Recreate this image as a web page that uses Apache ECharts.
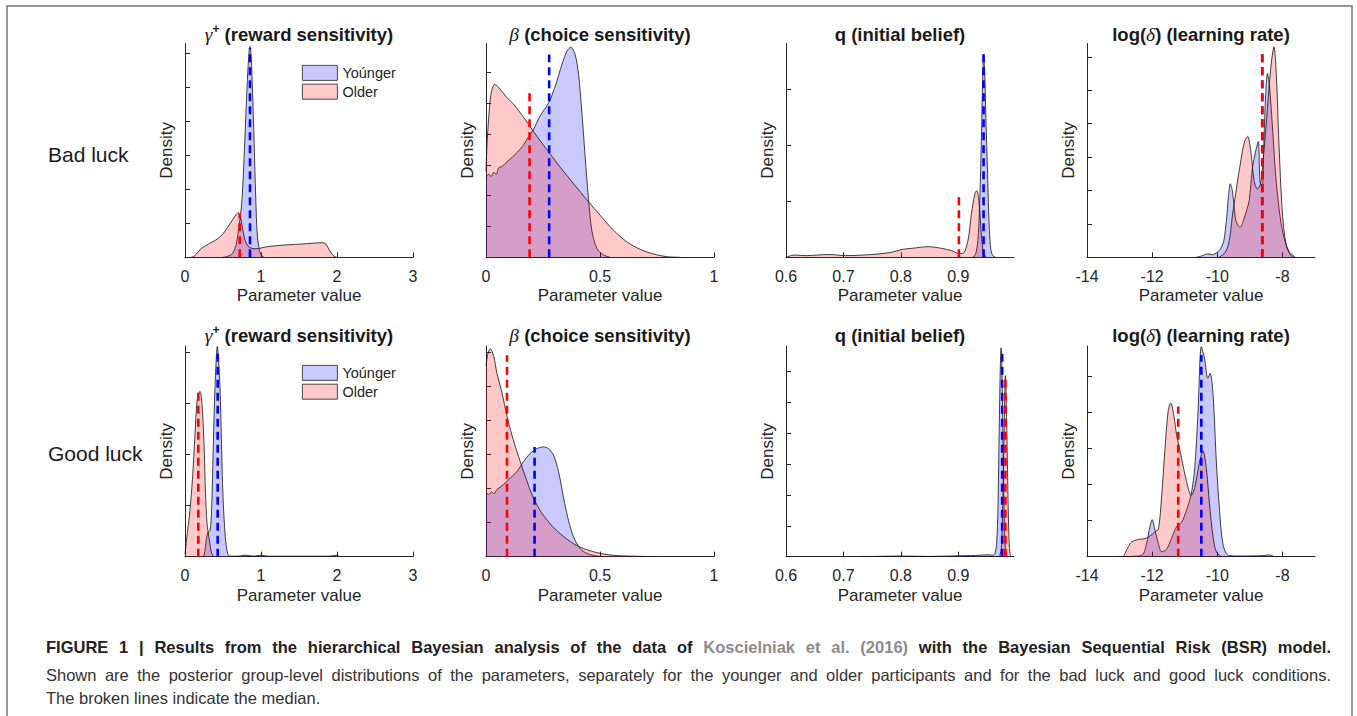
<!DOCTYPE html>
<html><head><meta charset="utf-8">
<script src="https://cdn.jsdelivr.net/npm/echarts@6/dist/echarts.min.js"></script>
<style>html,body{margin:0;padding:0;background:#fff}#c{width:1357px;height:716px}</style>
</head><body><div id="c"></div>
<script>
// ---------------- DATA ----------------
// Row 1: Bad luck
const gammaBadYoungX = [0.50,0.55,0.62,0.67,0.71,0.75,0.79,0.82,0.845,0.855,0.87,0.89,0.91,0.93,0.95,0.98,1.01,1.04];
const gammaBadYoungY = [0,0.02,0.1,0.35,0.9,1.7,3.6,5.2,6.1,6.2,5.9,4.8,3.35,1.8,0.7,0.2,0.05,0];
const gammaBadOldX = [0.08,0.12,0.17,0.22,0.28,0.33,0.40,0.47,0.53,0.58,0.63,0.67,0.70,0.73,0.76,0.79,0.83,0.87,0.92,0.98,1.05,1.15,1.3,1.45,1.6,1.72,1.80,1.85,1.89,1.93,1.97,2.0];
const gammaBadOldY = [0,0.03,0.15,0.27,0.35,0.42,0.5,0.62,0.78,0.95,1.12,1.25,1.31,1.18,0.82,0.5,0.33,0.27,0.25,0.26,0.3,0.33,0.36,0.38,0.4,0.42,0.43,0.4,0.25,0.1,0.02,0];

const betaBadYoungX = [0,0.012,0.022,0.034,0.045,0.055,0.07,0.092,0.115,0.136,0.16,0.18,0.209,0.238,0.274,0.304,0.333,0.355,0.372,0.391,0.406,0.42,0.435,0.45,0.464,0.486,0.515,0.545];
const betaBadYoungY = [2.6,2.7,2.62,2.76,2.7,2.9,2.95,3.1,3.25,3.4,3.6,3.84,4.16,4.6,5.0,5.56,6.26,6.69,6.82,6.58,5.94,4.75,3.25,1.85,0.88,0.29,0.08,0];
const betaBadOldX = [0,0.004,0.012,0.022,0.038,0.063,0.092,0.121,0.165,0.201,0.238,0.282,0.326,0.384,0.45,0.5,0.559,0.618,0.676,0.734,0.793,0.851];
const betaBadOldY = [2.8,3.6,4.54,5.3,5.61,5.45,5.18,4.97,4.54,4.16,3.78,3.35,2.92,2.39,1.8,1.37,0.88,0.5,0.26,0.11,0.02,0];

const qBadYoungX = [0.925,0.93,0.934,0.937,0.94,0.942,0.944,0.946,0.948,0.951,0.954,0.957,0.96,0.965];
const qBadYoungY = [0,0.05,0.3,0.9,2.0,3.0,3.62,3.3,2.5,1.5,0.5,0.12,0.03,0];
const qBadOldX = [0.6,0.614,0.635,0.675,0.704,0.75,0.784,0.802,0.819,0.848,0.871,0.888,0.9,0.908,0.917,0.923,0.929,0.932,0.936,0.94,0.944,0.949];
const qBadOldY = [0,0.04,0.03,0.05,0.03,0.05,0.09,0.14,0.16,0.19,0.16,0.12,0.07,0.07,0.31,0.79,1.14,1.19,1.0,0.43,0.07,0];

const deltaBadYoungX = [-10.65,-10.45,-10.3,-10.15,-10.0,-9.9,-9.8,-9.72,-9.66,-9.60,-9.54,-9.48,-9.43,-9.36,-9.30,-9.2,-9.1,-9.02,-8.92,-8.82,-8.74,-8.69,-8.62,-8.57,-8.51,-8.46,-8.40,-8.31,-8.21,-8.11,-8.02,-7.91,-7.78,-7.6];
const deltaBadYoungY = [0,0.05,0.1,0.08,0.15,0.25,0.5,1.1,1.8,2.2,2.0,1.5,1.1,0.95,0.9,1.1,1.4,1.7,2.68,3.18,3.47,2.28,2.09,3.47,4.96,5.5,5.16,3.96,2.48,1.5,0.9,0.45,0.15,0];
const deltaBadOldX = [-9.95,-9.8,-9.68,-9.60,-9.53,-9.45,-9.38,-9.30,-9.23,-9.15,-9.07,-8.97,-8.87,-8.77,-8.67,-8.57,-8.46,-8.36,-8.26,-8.18,-8.11,-8.0,-7.88,-7.74,-7.65];
const deltaBadOldY = [0,0.1,0.3,0.7,1.3,1.8,2.28,2.75,3.17,3.5,3.62,3.17,2.3,2.05,2.2,3.17,4.46,5.65,6.3,5.3,3.47,1.3,0.35,0.05,0];

// Row 2: Good luck
const gammaGoodYoungX = [0.22,0.25,0.28,0.30,0.33,0.35,0.373,0.395,0.425,0.46,0.48,0.50,0.53,0.56,0.59,0.7,0.8,0.9,1.0,1.1,1.5,1.9,2.0,2.03];
const gammaGoodYoungY = [0,0.03,0.33,0.47,0.52,0.92,2.22,3.33,4.12,3.33,2.22,1.18,0.39,0.07,0.01,0.01,0.03,0.01,0.03,0.01,0.01,0.01,0.03,0];
const gammaGoodOldX = [0,0.02,0.066,0.10,0.13,0.16,0.197,0.22,0.25,0.27,0.29,0.32,0.35,0.38];
const gammaGoodOldY = [0.05,0.33,0.92,1.57,2.35,3.07,3.24,3.07,2.22,1.24,0.65,0.33,0.07,0];

const betaGoodYoungX = [0,0.012,0.025,0.035,0.048,0.077,0.107,0.136,0.165,0.194,0.223,0.253,0.274,0.296,0.318,0.34,0.362,0.384,0.413,0.442,0.486,0.53];
const betaGoodYoungY = [1.88,1.83,1.9,1.85,1.97,2.12,2.31,2.5,2.79,3.03,3.17,3.22,3.17,2.98,2.5,1.73,1.06,0.58,0.24,0.1,0.02,0];
const betaGoodOldX = [0,0.008,0.019,0.034,0.048,0.07,0.092,0.114,0.136,0.165,0.201,0.238,0.282,0.326,0.384,0.428,0.486,0.559,0.676,0.75];
const betaGoodOldY = [5.6,5.95,6.1,5.87,5.38,4.81,4.13,3.56,3.08,2.5,1.83,1.35,0.96,0.67,0.38,0.24,0.12,0.04,0.01,0];

const qGoodYoungX = [0.73,0.8,0.85,0.9,0.93,0.95,0.96,0.964,0.967,0.969,0.971,0.973,0.9745,0.976,0.978,0.98,0.982,0.985];
const qGoodYoungY = [0,0.02,0.01,0.03,0.04,0.06,0.05,0.1,0.5,1.5,3.8,6.0,6.75,6.0,3.6,1.3,0.3,0];
const qGoodOldX = [0.972,0.975,0.977,0.979,0.981,0.982,0.983,0.985,0.987,0.989,0.991];
const qGoodOldY = [0,0.3,1.3,3.2,5.3,5.85,5.4,3.6,1.5,0.3,0];

const deltaGoodYoungX = [-13.08,-12.6,-12.3,-12.17,-12.07,-12.0,-11.91,-11.81,-11.71,-11.56,-11.41,-11.25,-11.1,-10.95,-10.8,-10.69,-10.59,-10.49,-10.39,-10.29,-10.22,-10.13,-10.03,-9.93,-9.83,-9.68,-9.4,-9.0,-8.6,-8.4,-8.25];
const deltaGoodYoungY = [0,0.01,0.05,0.37,0.83,1.03,0.73,0.37,0.14,0.2,0.5,0.83,0.95,1.28,1.74,2.48,4.04,5.83,5.5,4.95,5.09,4.5,2.66,1.28,0.37,0.05,0.02,0.02,0.03,0.05,0];
const deltaGoodOldX = [-12.88,-12.73,-12.63,-12.42,-12.22,-12.0,-11.91,-11.81,-11.71,-11.61,-11.51,-11.43,-11.33,-11.25,-11.1,-10.95,-10.8,-10.69,-10.54,-10.44,-10.34,-10.24,-10.13,-10.03,-9.88];
const deltaGoodOldY = [0,0.28,0.41,0.48,0.5,0.62,0.7,0.75,1.65,2.94,4.04,4.27,3.9,3.39,2.75,2.11,1.70,1.93,2.66,2.94,2.48,1.47,0.55,0.14,0];

// Medians (position, height of the broken line), panels in order: gamma, beta, q, delta
const badMedianYoungX = [0.855, 0.277, 0.944, -8.62];
const badMedianYoungH = [6.15, 6.58, 3.64, 6.1];
const badMedianOldX = [0.72, 0.191, 0.901, -8.62];
const badMedianOldH = [1.29, 5.45, 1.11, 6.1];
const goodMedianYoungX = [0.43, 0.213, 0.9764, -10.49];
const goodMedianYoungH = [3.99, 3.22, 6.56, 5.6];
const goodMedianOldX = [0.175, 0.092, 0.982, -11.2];
const goodMedianOldH = [3.24, 5.91, 5.8, 4.17];

// Tick labels
const xTicksGamma = [0, 1, 2, 3];
const xTicksBeta = [0, 0.5, 1];
const xTicksQ = [0.6, 0.7, 0.8, 0.9];
const xTicksDelta = [-14, -12, -10, -8];

const seriesNames = ['Yoúnger', 'Older'];
const rowLabels = ['Bad luck', 'Good luck'];
const xName = 'Parameter value';
const yName = 'Density';
const colTitles = [
  '{g|γ}{s|+}{t| (reward sensitivity)}',
  '{g|β}{t| (choice sensitivity)}',
  '{t|q (initial belief)}',
  '{t|log(}{g|δ}{t|) (learning rate)}'
];
const captionLine1Parts = [
  {text: 'FIGURE 1 | Results from the hierarchical Bayesian analysis of the data of', style: 'b'},
  {text: 'Koscielniak et al. (2016)', style: 'k'},
  {text: 'with the Bayesian Sequential Risk (BSR) model.', style: 'b'}
];
const captionLine2 = 'Shown are the posterior group-level distributions of the parameters, separately for the younger and older participants and for the bad luck and good luck conditions.';
const captionLine3 = 'The broken lines indicate the median.';

// ---------------- LAYOUT / STYLE ----------------
const FONT = "'Liberation Sans', Arial, Helvetica, sans-serif";
const SERIF = "'Liberation Serif', 'DejaVu Serif', serif";
const AX = '#262626';
const BLUE_FILL = 'rgba(0,0,255,0.21)';
const RED_FILL = 'rgba(255,0,0,0.21)';
const colLeft = [185, 486, 786, 1087];
const rowTop = [43.5, 346];
const rowH = [213.8, 210.7];
const plotW = 228;
const CAP_SIZE = 16.5;
const CAP_LEFT = 46, CAP_RIGHT = 1331;

const zip = (xs, ys) => xs.map((x, k) => [x, ys[k]]);

const panels = [
  {row:0,col:0, yX:gammaBadYoungX, yY:gammaBadYoungY, oX:gammaBadOldX, oY:gammaBadOldY, xr:[0,3], xs:1, xt:xTicksGamma, ymax:6.29, yt:[1,2,3,4,5,6], m:0},
  {row:0,col:1, yX:betaBadYoungX, yY:betaBadYoungY, oX:betaBadOldX, oY:betaBadOldY, xr:[0,1], xs:0.5, xt:xTicksBeta, ymax:6.94, yt:[1,2,3,4,5,6], m:1},
  {row:0,col:2, yX:qBadYoungX, yY:qBadYoungY, oX:qBadOldX, oY:qBadOldY, xr:[0.6,0.997], xs:0.1, xt:xTicksQ, ymax:3.82, yt:[1,2,3], m:2},
  {row:0,col:3, yX:deltaBadYoungX, yY:deltaBadYoungY, oX:deltaBadOldX, oY:deltaBadOldY, xr:[-14,-7], xs:2, xt:xTicksDelta, ymax:6.4, yt:[1,2,3,4,5,6], m:3},
  {row:1,col:0, yX:gammaGoodYoungX, yY:gammaGoodYoungY, oX:gammaGoodOldX, oY:gammaGoodOldY, xr:[0,3], xs:1, xt:xTicksGamma, ymax:4.13, yt:[1,2,3,4], m:0},
  {row:1,col:1, yX:betaGoodYoungX, yY:betaGoodYoungY, oX:betaGoodOldX, oY:betaGoodOldY, xr:[0,1], xs:0.5, xt:xTicksBeta, ymax:6.18, yt:[1,2,3,4,5,6], m:1},
  {row:1,col:2, yX:qGoodYoungX, yY:qGoodYoungY, oX:qGoodOldX, oY:qGoodOldY, xr:[0.6,0.997], xs:0.1, xt:xTicksQ, ymax:6.81, yt:[1,2,3,4,5,6], m:2},
  {row:1,col:3, yX:deltaGoodYoungX, yY:deltaGoodYoungY, oX:deltaGoodOldX, oY:deltaGoodOldY, xr:[-14,-7], xs:2, xt:xTicksDelta, ymax:5.85, yt:[1,2,3,4,5], m:3}
];

const grids = [], xAxes = [], yAxes = [], series = [];
panels.forEach((p, i) => {
  grids.push({left: colLeft[p.col], top: rowTop[p.row], width: plotW, height: rowH[p.row], containLabel: false});
  xAxes.push({
    type: 'value', gridIndex: i, min: p.xr[0], max: p.xr[1], interval: p.xs,
    axisLine: {show: true, onZero: false, lineStyle: {color: AX, width: 1}},
    axisTick: {show: true, inside: true, length: 5, customValues: p.xt, lineStyle: {color: AX, width: 1}},
    axisLabel: {show: true, customValues: p.xt, fontSize: 16, color: AX, fontFamily: FONT, margin: 11},
    splitLine: {show: false},
    name: xName, nameLocation: 'middle', nameGap: 30,
    nameTextStyle: {fontSize: 17, color: AX, fontFamily: FONT}
  });
  yAxes.push({
    type: 'value', gridIndex: i, min: 0, max: p.ymax, interval: 1,
    axisLine: {show: true, onZero: false, lineStyle: {color: AX, width: 1}},
    axisTick: {show: true, inside: true, length: 5, customValues: p.yt, lineStyle: {color: AX, width: 1}},
    axisLabel: {show: false},
    splitLine: {show: false},
    name: yName, nameLocation: 'middle', nameGap: 10, nameRotate: 90,
    nameTextStyle: {fontSize: 17, color: AX, fontFamily: FONT}
  });
  const common = {type: 'line', xAxisIndex: i, yAxisIndex: i, symbol: 'none', showSymbol: false,
    smooth: 0.3, silent: true, animation: false};
  series.push(Object.assign({}, common, {
    name: seriesNames[0], data: zip(p.yX, p.yY), z: 2,
    itemStyle: {color: BLUE_FILL}, lineStyle: {color: '#111', width: 0.8},
    areaStyle: {color: BLUE_FILL, opacity: 1}
  }));
  series.push(Object.assign({}, common, {
    name: seriesNames[1], data: zip(p.oX, p.oY), z: 3,
    itemStyle: {color: RED_FILL}, lineStyle: {color: '#111', width: 0.8},
    areaStyle: {color: RED_FILL, opacity: 1}
  }));
  const mYX = p.row === 0 ? badMedianYoungX : goodMedianYoungX;
  const mYH = p.row === 0 ? badMedianYoungH : goodMedianYoungH;
  const mOX = p.row === 0 ? badMedianOldX : goodMedianOldX;
  const mOH = p.row === 0 ? badMedianOldH : goodMedianOldH;
  series.push(Object.assign({}, common, {
    name: 'median-young', smooth: false, z: 5,
    data: [[mYX[p.m], 0], [mYX[p.m], mYH[p.m]]],
    itemStyle: {color: '#0000ff'}, lineStyle: {color: '#0000ff', width: 2.6, type: [8, 5]}
  }));
  series.push(Object.assign({}, common, {
    name: 'median-old', smooth: false, z: 6,
    data: [[mOX[p.m], 0], [mOX[p.m], mOH[p.m]]],
    itemStyle: {color: '#ff0000'}, lineStyle: {color: '#ff0000', width: 2.6, type: [8, 5]}
  }));
});

const legendCommon = {
  orient: 'vertical', left: 302, itemWidth: 35, itemHeight: 15, itemGap: 3, icon: 'rect',
  selectedMode: false, padding: 0,
  textStyle: {fontSize: 14.5, color: AX, fontFamily: FONT},
  data: [
    {name: seriesNames[0], itemStyle: {color: BLUE_FILL, borderColor: '#222', borderWidth: 0.8}},
    {name: seriesNames[1], itemStyle: {color: RED_FILL, borderColor: '#222', borderWidth: 0.8}}
  ]
};

// --- justified caption lines (extra width spread over the word gaps) ---
const mctx = document.createElement('canvas').getContext('2d');
function textW(t, weight) { mctx.font = weight + ' ' + CAP_SIZE + 'px ' + FONT; return mctx.measureText(t).width; }
function justified(parts, weightOf, target) {
  const words = [];
  parts.forEach(seg => seg.text.split(' ').forEach(w => { if (w.length) words.push({w: w, s: seg.style}); }));
  const sum = words.reduce((a, o) => a + textW(o.w, weightOf[o.s]), 0);
  const gap = (target - sum) / (words.length - 1);
  return {text: words.map(o => '{' + o.s + '|' + o.w + '}').join('{sp| }'), gap: gap};
}
const capRich = (gap) => ({
  b: {fontSize: CAP_SIZE, fontWeight: 'bold', fontFamily: FONT, fill: '#222'},
  k: {fontSize: CAP_SIZE, fontWeight: 'bold', fontFamily: FONT, fill: '#8c8c8c'},
  n: {fontSize: CAP_SIZE, fontWeight: 'normal', fontFamily: FONT, fill: '#333'},
  sp: {fontSize: CAP_SIZE, width: gap, fontFamily: FONT}
});
const cap1 = justified(captionLine1Parts, {b: 'bold', k: 'bold'}, CAP_RIGHT - CAP_LEFT);
const cap2 = justified([{text: captionLine2, style: 'n'}], {n: 'normal'}, CAP_RIGHT - CAP_LEFT);

const graphics = [
  {type: 'rect', silent: true, z: -1, shape: {x: 7, y: 6, width: 1345, height: 730},
   style: {fill: 'none', stroke: '#777', lineWidth: 1.5}}
];
const titleRich = {
  t: {fontSize: 18.5, fontWeight: 'bold', fontFamily: FONT, fill: '#1a1a1a'},
  g: {fontSize: 19.5, fontStyle: 'italic', fontWeight: 'normal', fontFamily: SERIF, fill: '#1a1a1a'},
  s: {fontSize: 12, fontWeight: 'bold', fontFamily: FONT, fill: '#1a1a1a', padding: [0, 0, 10, 0]}
};
[0, 1].forEach(r => {
  colTitles.forEach((t, c) => {
    graphics.push({type: 'text', silent: true, x: colLeft[c] + plotW / 2, y: r === 0 ? 34 : 335,
      style: {text: t, rich: titleRich, align: 'center', verticalAlign: 'middle'}});
  });
  graphics.push({type: 'text', silent: true, x: 48, y: r === 0 ? 154 : 453,
    style: {text: rowLabels[r], fill: '#1a1a1a', font: '21px ' + FONT, align: 'left', verticalAlign: 'middle'}});
});
graphics.push({type: 'text', silent: true, x: CAP_LEFT, y: 647,
  style: {text: cap1.text, align: 'left', verticalAlign: 'middle', rich: capRich(cap1.gap)}});
graphics.push({type: 'text', silent: true, x: CAP_LEFT, y: 675,
  style: {text: cap2.text, align: 'left', verticalAlign: 'middle', rich: capRich(cap2.gap)}});
graphics.push({type: 'text', silent: true, x: CAP_LEFT, y: 698,
  style: {text: captionLine3, align: 'left', verticalAlign: 'middle', fill: '#333', font: CAP_SIZE + 'px ' + FONT}});

const chart = echarts.init(document.getElementById('c'), null, {renderer: 'svg'});
chart.setOption({
  animation: false,
  backgroundColor: '#ffffff',
  grid: grids, xAxis: xAxes, yAxis: yAxes, series: series,
  legend: [Object.assign({}, legendCommon, {top: 65}), Object.assign({}, legendCommon, {top: 365})],
  graphic: {elements: graphics}
});
</script></body></html>
